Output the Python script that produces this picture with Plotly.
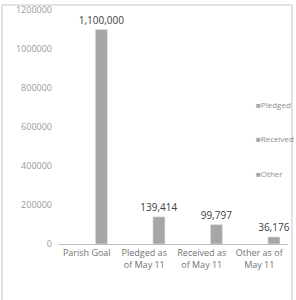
import plotly.graph_objects as go

categories = ["Parish Goal", "Pledged as<br>of May 11", "Received as<br>of May 11", "Other as of<br>May 11"]
values = [1100000, 139414, 99797, 36176]
value_labels = ["1,100,000", "139,414", "99,797", "36,176"]
legend_names = ["Pledged", "Received", "Other"]
y_ticks = [0, 200000, 400000, 600000, 800000, 1000000, 1200000]

fig = go.Figure()
fig.add_trace(go.Bar(
    x=categories, y=values, text=value_labels, textposition="outside",
    constraintext="none", textangle=0,
    textfont=dict(size=10, color="#404040"), cliponaxis=False,
    marker=dict(color="#a6a6a6"), showlegend=False, width=0.21, offset=0.15,
))

legend_y = [0.598, 0.449, 0.303]
annotations = []
for name, ly in zip(legend_names, legend_y):
    annotations.append(dict(
        xref="paper", yref="paper", x=0.852, y=ly, xanchor="left", yanchor="middle",
        text="<span style='color:#a6a6a6;font-size:8px'>■</span>" + name,
        showarrow=False, font=dict(size=8, color="#8c8c8c", family="Open Sans"),
    ))

line = dict(color="#d9d9d9", width=1.5)
fig.update_layout(
    width=296, height=300,
    margin=dict(l=58, r=8, t=10, b=56, autoexpand=False),
    paper_bgcolor="white", plot_bgcolor="white",
    font=dict(family="Open Sans", size=8, color="#7f7f7f"),
    showlegend=False,
    annotations=annotations,
    xaxis=dict(showline=True, linecolor="#bfbfbf", linewidth=1, showgrid=False, ticks="",
               tickangle=0, automargin=False, tickfont=dict(size=9, color="#737373")),
    yaxis=dict(range=[0, 1200000], tickvals=y_ticks, ticktext=[str(v) for v in y_ticks],
               showgrid=False, showline=False, zeroline=False, ticks="", automargin=False,
               tickfont=dict(size=9, color="#999999"), ticklabelstandoff=5),
    shapes=[
        dict(type="line", xref="paper", yref="paper", x0=-0.2435, x1=1.017, y0=1.0214, y1=1.0214, line=line),
        dict(type="line", xref="paper", yref="paper", x0=1.017, x1=1.017, y0=1.0214, y1=-0.24, line=line),
        dict(type="line", xref="paper", yref="paper", x0=-0.2435, x1=-0.2435, y0=1.0214, y1=-0.24, line=line),
    ],
)
fig.write_html("out.html", config={"displayModeBar": False},
               post_script="document.body.style.margin='0';document.body.style.overflow='hidden';")
